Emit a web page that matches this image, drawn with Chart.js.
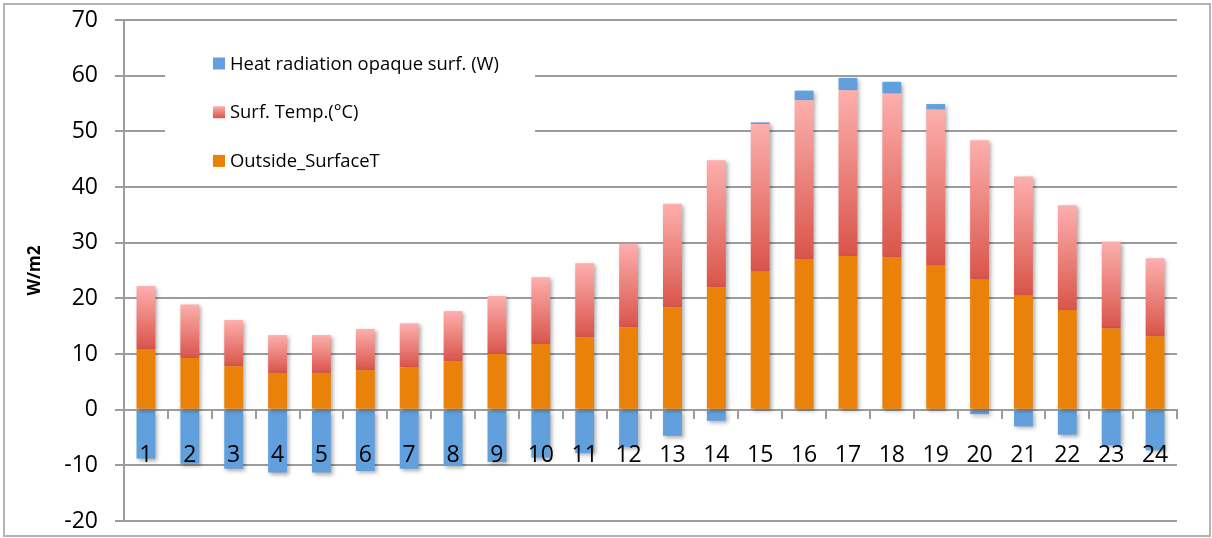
<!DOCTYPE html>
<html>
<head>
<meta charset="utf-8">
<script src="https://cdn.jsdelivr.net/npm/chart.js@4.4.1/dist/chart.umd.min.js"></script>
<style>
  html, body { margin: 0; padding: 0; background: #fff; }
  #wrap { position: relative; width: 1212px; height: 538px; }
  #frame { position: absolute; left: 3px; top: 3px; width: 1208px; height: 534px; border: 2px solid #b4b4b4; box-sizing: border-box; pointer-events: none; }
</style>
</head>
<body>
<div id="wrap">
  <canvas id="chart" width="1212" height="538"></canvas>
  <div id="frame"></div>
</div>
<script>
const hours = ['1', '2', '3', '4', '5', '6', '7', '8', '9', '10', '11', '12',
  '13', '14', '15', '16', '17', '18', '19', '20', '21', '22', '23', '24'];

const heatRadiation = [-8.8, -9.7, -10.6, -11.3, -11.3, -11.0, -10.6, -10.1, -9.4, -8.6, -7.8, -6.7,
  -4.7, -2.0, 0.3, 1.7, 2.2, 2.1, 1.0, -0.8, -3.0, -4.5, -6.4, -7.3];

const surfTemp = [11.3, 9.6, 8.3, 6.8, 6.8, 7.4, 7.9, 9.0, 10.4, 12.0, 13.3, 15.0,
  18.6, 22.8, 26.4, 28.6, 29.8, 29.4, 27.9, 25.0, 21.3, 18.8, 15.6, 14.0];

const outsideSurfaceT = [10.9, 9.3, 7.8, 6.6, 6.6, 7.1, 7.6, 8.7, 10.0, 11.8, 13.0, 14.8,
  18.4, 22.0, 24.9, 27.0, 27.6, 27.4, 26.0, 23.4, 20.6, 17.9, 14.6, 13.2];

const yMin = -20;
const yMax = 70;
const yStep = 10;

const orange = '#ea8108';
const blue = '#62a0dd';
const pinkLight = '#fdafad';
const pinkDark = '#d9544a';
const gridGray = '#9c9c9c';
const family = '"Open Sans", "Liberation Sans", sans-serif';

function pinkGradient(ctx, top, bottom) {
  const g = ctx.createLinearGradient(0, top, 0, bottom);
  g.addColorStop(0, pinkLight);
  g.addColorStop(1, pinkDark);
  return g;
}

// each Surf. Temp. segment fades from light at its top to red at its base
function pinkFill(context) {
  const { chart, dataIndex } = context;
  const y = chart.scales.y;
  if (!y || context.type !== 'data') return pinkDark;
  const base = outsideSurfaceT[dataIndex];
  const top = base + surfTemp[dataIndex];
  const y0 = y.getPixelForValue(top);
  const y1 = y.getPixelForValue(base);
  if (!isFinite(y0) || !isFinite(y1) || y0 === y1) return pinkDark;
  return pinkGradient(chart.ctx, y0, y1);
}

// soft drop shadow under the bars
const barShadow = {
  id: 'barShadow',
  beforeDatasetsDraw(chart) {
    const c = chart.ctx;
    c.save();
    c.shadowColor = 'rgba(0, 0, 0, 0.32)';
    c.shadowBlur = 4;
    c.shadowOffsetX = 2;
    c.shadowOffsetY = 2;
  },
  afterDatasetsDraw(chart) {
    chart.ctx.restore();
  }
};

// legend panel sitting inside the plot, top-left, on a white background
const panelLegend = {
  id: 'panelLegend',
  afterDraw(chart) {
    const c = chart.ctx;
    c.save();
    c.fillStyle = '#fff';
    c.fillRect(165, 32, 370, 148);
    c.font = '18.4px ' + family;
    c.textBaseline = 'middle';
    c.textAlign = 'left';
    const items = chart.data.datasets.slice().reverse();
    items.forEach((ds, k) => {
      const cy = 63.5 + k * 48.7;
      const bx = 213, by = cy - 6, bs = 12;
      c.fillStyle = typeof ds.backgroundColor === 'function'
        ? pinkGradient(c, by, by + bs)
        : ds.backgroundColor;
      c.fillRect(bx, by, bs, bs);
      c.fillStyle = '#000';
      c.fillText(ds.label, 230, cy + 1);
    });
    c.restore();
  }
};

new Chart(document.getElementById('chart'), {
  type: 'bar',
  data: {
    labels: hours,
    datasets: [
      { label: 'Outside_SurfaceT', data: outsideSurfaceT, backgroundColor: orange },
      { label: 'Surf. Temp.(°C)', data: surfTemp, backgroundColor: pinkFill },
      { label: 'Heat radiation opaque surf. (W)', data: heatRadiation, backgroundColor: blue }
    ]
  },
  options: {
    responsive: false,
    animation: false,
    barPercentage: 0.43,
    categoryPercentage: 1,
    layout: { padding: { top: 20, right: 35, bottom: 17, left: 0 } },
    plugins: {
      legend: { display: false },
      tooltip: { enabled: false }
    },
    scales: {
      x: {
        stacked: true,
        position: { y: 0 },
        grid: { drawOnChartArea: false, color: gridGray, lineWidth: 2, tickLength: 8, offset: true },
        border: { color: gridGray, width: 2 },
        ticks: { z: 1, color: '#000', font: { family: family, size: 23 }, padding: 23.5, maxRotation: 0, autoSkip: false }
      },
      y: {
        stacked: true,
        min: yMin,
        max: yMax,
        ticks: { stepSize: yStep, color: '#000', font: { family: family, size: 23 }, padding: 17 },
        grid: { color: gridGray, lineWidth: 2, tickLength: 9 },
        border: { color: gridGray, width: 2 },
        title: {
          display: true,
          text: 'W/m2',
          color: '#000',
          font: { family: family, size: 17, weight: 'bold' },
          padding: { top: 25, bottom: 0 }
        },
        afterFit(scale) {
          // fixed gutter for the axis; the outer padding alone sets the plot's top and bottom
          scale.width = 124;
          scale.paddingTop = 0;
          scale.paddingBottom = 0;
        }
      }
    }
  },
  plugins: [barShadow, panelLegend]
});
</script>
</body>
</html>
